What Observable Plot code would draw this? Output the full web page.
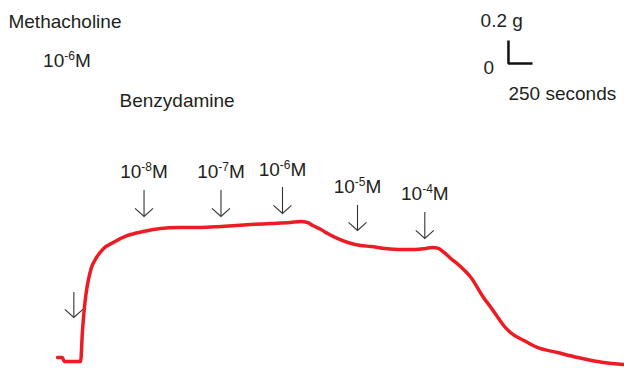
<!DOCTYPE html>
<html>
<head>
<meta charset="utf-8">
<script src="https://cdn.jsdelivr.net/npm/d3@7"></script>
<script src="https://cdn.jsdelivr.net/npm/@observablehq/plot@0.6"></script>
<style>
  html, body { margin: 0; padding: 0; background: #fff; }
  #chart svg { display: block; }
</style>
</head>
<body>
<div id="chart"></div>
<script>
// Tension trace: time (seconds) and tension (grams)
const traceTime = [0, 50, 70, 220, 240, 260, 280, 300, 320, 350, 400, 480, 580, 730, 890, 1070, 1260, 1490, 1700, 2010, 2220, 2420, 2530, 2600, 2660, 2740, 2810, 2910, 3020, 3150, 3260, 3410, 3570, 3720, 3830, 3900, 3960, 4020, 4090, 4190, 4300, 4430, 4500, 4580, 4640, 4710, 4850, 4990, 5200, 5410, 5680, 5890];
const traceGrams = [0.035, 0.035, 0, 0, 0, 0.270, 0.470, 0.609, 0.704, 0.809, 0.896, 0.983, 1.035, 1.096, 1.130, 1.157, 1.165, 1.165, 1.174, 1.191, 1.200, 1.209, 1.217, 1.209, 1.180, 1.148, 1.113, 1.070, 1.035, 1.009, 1.000, 0.983, 0.974, 0.974, 0.983, 0.991, 0.983, 0.948, 0.896, 0.826, 0.730, 0.557, 0.478, 0.383, 0.313, 0.252, 0.183, 0.122, 0.078, 0.035, -0.009, -0.026];

// Drug additions (arrows): time, arrow top, arrow tip (grams)
const arrowTime = [170, 900, 1700, 2340, 3120, 3820];
const arrowTop  = [0.600, 1.487, 1.487, 1.513, 1.357, 1.296];
const arrowTip  = [0.383, 1.261, 1.261, 1.287, 1.139, 1.070];
// Benzydamine concentration labels (for arrows 2..6)
const concExponent = [null, -8, -7, -6, -5, -4];

// Header annotations
const headText  = ["Methacholine", "10^-6M", "Benzydamine"];
const headTime  = [-510, -150, 645];
const headGrams = [2.904, 2.557, 2.217];

// Scale bar: 0.2 g by 250 seconds
const barTime  = [4690, 4690, 4940];
const barGrams = [2.791, 2.591, 2.591];
const barText      = ["0.2 g", "0", "250 seconds"];
const barTextTime  = [4400, 4540, 4690];
const barTextGrams = [2.913, 2.504, 2.270];
const barTextAnchor = ["start", "end", "start"];

// Build tables
const trace = traceTime.map((t, i) => ({t, g: traceGrams[i]}));
const arrows = arrowTime.map((t, i) => ({t, top: arrowTop[i], tip: arrowTip[i], exp: concExponent[i]}));
const concLabels = arrows.filter(d => d.exp !== null).map(d => ({t: d.t, g: d.top, label: `10^${d.exp}M`}));
const heads = headText.map((s, i) => ({label: s, t: headTime[i], g: headGrams[i]}));
const bar = barTime.map((t, i) => ({t, g: barGrams[i]}));
const barLabels = barText.map((s, i) => ({label: s, t: barTextTime[i], g: barTextGrams[i], anchor: barTextAnchor[i]}));

const font = "'Liberation Sans', Arial, Helvetica, sans-serif";
const ink = "#231f20";

// open V arrowhead symbol, tip at the origin
const vHead = {
  draw(ctx, size) {
    const r = Math.sqrt(size / Math.PI);
    ctx.moveTo(-r, -r * 0.9);
    ctx.lineTo(0, 0);
    ctx.lineTo(r, -r * 0.9);
  }
};

const W = 624, H = 369;
const svg = Plot.plot({
  width: W,
  height: H,
  margin: 0,
  x: {domain: [-592.8, 5896.8], range: [0, W], axis: null},
  y: {domain: [-8 / 115, 361 / 115], range: [H, 0], axis: null},
  style: {background: "#fff", overflow: "visible"},
  marks: [
    Plot.line(trace, {x: "t", y: "g", stroke: "#ed1c24", strokeWidth: 3.5, curve: "monotone-x"}),
    Plot.ruleX(arrows, {x: "t", y1: "top", y2: "tip", stroke: "#333", strokeWidth: 1.1}),
    Plot.dot(arrows, {x: "t", y: "tip", symbol: vHead, r: 9, fill: "none", stroke: "#333", strokeWidth: 1.1}),
    Plot.text(concLabels, {x: "t", y: "g", text: "label", textAnchor: "middle", lineAnchor: "bottom", dy: -12, fontSize: 19, fontFamily: font, fill: ink}),
    Plot.text(heads, {x: "t", y: "g", text: "label", textAnchor: "start", lineAnchor: "bottom", fontSize: 19, fontFamily: font, fill: ink}),
    Plot.line(bar, {x: "t", y: "g", stroke: "#111", strokeWidth: 2.5, strokeLinejoin: "miter", strokeLinecap: "butt"}),
    Plot.text(barLabels.filter(d => d.anchor === "start"), {x: "t", y: "g", text: "label", textAnchor: "start", lineAnchor: "bottom", fontSize: 19, fontFamily: font, fill: ink}),
    Plot.text(barLabels.filter(d => d.anchor === "end"), {x: "t", y: "g", text: "label", textAnchor: "end", lineAnchor: "bottom", fontSize: 19, fontFamily: font, fill: ink})
  ]
});

// Turn "10^-8M" into 10 with a superscript exponent
const NS = "http://www.w3.org/2000/svg";
svg.querySelectorAll("text").forEach(el => {
  const m = el.textContent.match(/^(\d+)\^(-?\d+)(.*)$/);
  if (!m) return;
  el.textContent = "";
  const a = document.createElementNS(NS, "tspan"); a.textContent = m[1];
  const b = document.createElementNS(NS, "tspan"); b.textContent = m[2];
  b.setAttribute("font-size", "12"); b.setAttribute("dy", "-7");
  const c = document.createElementNS(NS, "tspan"); c.textContent = m[3];
  c.setAttribute("dy", "7");
  el.append(a, b, c);
});

document.getElementById("chart").append(svg);
</script>
</body>
</html>
